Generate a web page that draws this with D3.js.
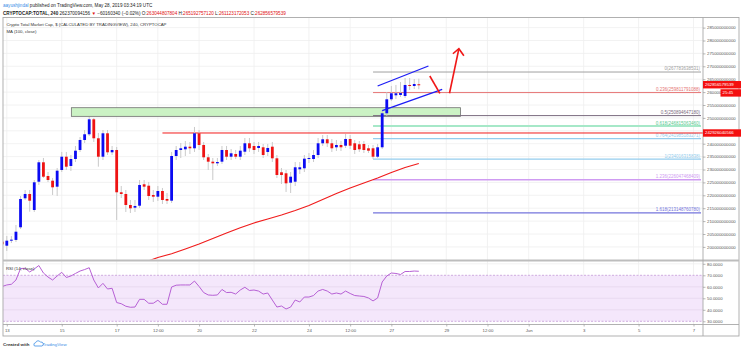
<!DOCTYPE html>
<html>
<head>
<meta charset="utf-8">
<script src="https://cdn.jsdelivr.net/npm/d3@7"></script>
<style>
  body { margin: 0; background: #fff; }
  svg { display: block; font-family: "Liberation Sans", Arial, sans-serif; }
</style>
</head>
<body>
<svg id="chart" width="741" height="351"></svg>
<script>
// ---- data (prices in billions of USD, 4h candles starting 12 May 20:00) ----
const opens = [202.02,200.47,202.6,202.7,207.6,218.84,220.51,214.3,225.27,232.79,227.48,225.66,223.34,229.81,234.96,231.36,234.07,237.56,241.44,243.65,249.46,242.1,234.96,244.03,236.67,237.56,221.17,220.51,216.24,215.2,215.97,224.27,223.72,220.12,219.46,221.67,218.57,217.91,235.23,237.56,237.83,238.84,238.22,244.03,239.5,234.73,233.03,232.4,233.03,237.56,234.96,236.01,234.96,236.9,240.16,239.11,238.34,238.61,236.79,238.84,234.34,228.92,228.53,224.89,225.27,230.08,230.47,234.07,234.07,235.62,240.16,241.71,240.16,238.61,239.5,239.23,241.83,240.16,239.77,239.89,238.22,238.22,234.96,238.61,251.79,257.21,258.76,258.88,258.49,262.76,262.37,263.04];
const highs = [203.06,204.23,204.2,208.49,219.73,222.06,222.06,225.93,233.68,234.46,229.03,226.71,230.58,236.79,236.79,235.62,239.11,242.6,245.31,250.35,249.96,244.15,245.31,245.31,239.11,238.72,223.61,222.06,218.18,218.18,225.93,225.93,225.16,222.06,223.61,222.83,220.89,236.79,239.11,240.27,241.05,240.66,246.48,245.31,240.66,236.01,234.46,234.46,239.11,239.11,237.95,237.56,239.11,242.21,242.21,240.66,240.66,239.89,239.89,240.66,235.62,230.58,229.81,229.03,232.91,232.91,235.62,236.4,237.56,242.21,243.37,243.37,241.83,241.44,241.05,243.76,243.37,241.44,241.05,241.05,239.5,239.5,239.89,253.06,260.04,262.37,262.76,263.92,265.47,265.47,265.08,265.19];
const lows = [199.96,198.41,201.5,201.9,206.94,218.18,213.65,213.53,224.0,226.71,225.16,220.12,219.73,229.03,229.81,229.42,232.91,236.79,240.27,242.99,240.66,231.09,233.68,235.62,235.62,210.43,218.95,213.53,213.14,213.53,215.08,222.06,218.18,217.41,217.79,216.63,216.63,217.02,233.68,234.46,235.23,236.01,236.79,237.56,233.68,229.81,225.93,231.36,232.13,233.68,233.68,234.07,233.68,235.62,236.79,236.01,236.79,234.46,235.23,232.91,226.71,224.38,221.28,220.89,223.61,228.26,229.03,232.52,232.91,234.46,239.11,238.72,236.79,237.17,237.17,238.34,237.95,236.01,236.79,236.4,236.4,234.07,234.46,237.95,250.74,256.55,257.33,258.1,257.72,260.82,261.2,261.12];
const closes = [201.01,202.41,202.8,205.89,218.57,220.51,217.91,225.04,232.79,227.21,225.93,223.1,229.54,234.96,231.09,234.07,237.29,241.44,243.65,249.46,242.1,234.96,244.03,236.67,237.56,221.17,220.51,216.24,214.96,215.86,224.0,223.34,219.73,219.46,221.67,218.18,217.91,235.23,237.56,238.22,238.84,238.22,244.03,239.5,234.73,233.03,232.4,232.91,237.56,234.96,236.28,234.96,237.29,240.16,238.22,237.56,239.11,235.62,238.34,234.34,227.87,227.87,224.65,227.21,230.86,230.86,234.19,234.46,235.62,240.16,241.71,240.16,238.22,239.5,238.61,241.83,239.23,237.56,237.83,237.56,237.29,234.96,238.61,251.79,257.21,259.54,259.54,259.66,262.76,262.37,263.14,262.86];

// MA(100, close) read at some bars
const maBars = [31,34,37,40,43,46,49,52,55,58,61,64,67,70,73,76,79,82,85,88,91];
const maValues = [193.96,195.89,197.33,199.19,201.12,203.26,205.39,207.4,209.27,210.82,212.37,214.11,216.05,218.38,220.7,222.83,224.77,226.71,228.84,230.78,232.33];

// RSI(14, close), one value per bar
const rsiValues = [60.3,61.6,62.2,65.9,75.9,76.1,72.9,75.5,78.5,72.0,68.5,65.9,69.4,72.6,68.1,69.4,71.6,73.7,75.0,76.6,65.9,59.0,63.0,58.1,58.7,46.3,45.3,43.1,42.2,42.4,49.1,49.1,45.7,45.7,48.3,44.8,44.8,59.8,61.4,61.6,61.6,61.6,65.0,60.3,55.0,52.9,52.6,52.9,57.7,55.0,55.2,53.7,57.2,59.6,56.8,57.2,56.3,53.7,54.6,48.5,42.4,43.3,40.7,42.4,48.5,46.8,51.1,51.1,52.4,56.3,57.7,56.3,53.7,54.6,53.7,56.3,54.2,52.4,52.0,51.6,50.3,47.7,50.3,64.2,69.4,72.0,71.6,70.7,73.3,73.3,73.7,73.5];

// fibonacci retracement
const fibRatios = ["0","0.236","0.5","0.618","0.764","1","1.236","1.618"];
const fibPrices = [267.78,259.81,250.89,246.82,241.99,234.02,226.05,213.15];
const fibTexts = ["267783638531","259811791088","250894647180","246815063460","241985183271","234016315838","226047468409","213148760780"];
const fibColors = ["#a0a0a0","#e57373","#7a6a7e","#a6e8c8","#94cdee","#94cdee","#cf9bf2","#7575dc"];
const fibWidths = [1,1,1,2,1.2,1.2,1.6,1.2];
const fibStartBar = 81;

// hand drawings: [bar1, price1, bar2, price2]
const blueLines = [[82.0,262.37,93.1,270.12],[83.0,252.79,96.1,261.09]];
const redLines = [[93.4,266.24,95.6,259.54],[97.7,259.54,99.75,276.8]];
const zoneBox = [15.1, 253.95, 100.1, 250.6];
const hLine = [35, 244.15];

// axes
const priceTicks = d3.range(200, 286, 5);
const hiddenPriceTicks = [245];   // covered by the level tag in the original
const rsiTicks = [30,40,50,60,70,80];
const timeTicks = [[2019,4,13,0,"13"],[2019,4,15,0,"15"],[2019,4,17,0,"17"],[2019,4,18,12,"12:00"],[2019,4,20,0,"20"],[2019,4,22,0,"22"],[2019,4,24,0,"24"],[2019,4,25,12,"12:00"],[2019,4,27,0,"27"],[2019,4,29,0,"29"],[2019,4,30,12,"12:00"],[2019,5,1,0,"Jun"],[2019,5,3,0,"3"],[2019,5,5,0,"5"],[2019,5,7,0,"7"]];

// ---- layout ----
const svg = d3.select("#chart");
const paneL = 3, paneR = 703, outerR = 739;
const mainT = 17.5, mainB = 259.5, rsiT = 261.5, rsiB = 324.5, axisB = 336;
const fontAxis = "4.3px";

const x = d3.scaleTime()
  .domain([new Date(2019,4,13), new Date(2019,5,7)])
  .range([6.8, 693.5]);
const t0 = new Date(2019,4,12,20);
const barTime = i => new Date(+t0 + i * 4 * 3600e3);
const bx = i => x(barTime(i));
const y = d3.scaleLinear().domain([200, 285]).range([246.9, 27.6]);
const yr = d3.scaleLinear().domain([30, 70]).range([321.3, 275.3]);

const defs = svg.append("defs");
defs.append("clipPath").attr("id", "clipMain").append("rect")
  .attr("x", paneL).attr("y", mainT).attr("width", paneR - paneL).attr("height", mainB - mainT);
defs.append("clipPath").attr("id", "clipRsi").append("rect")
  .attr("x", paneL).attr("y", rsiT).attr("width", paneR - paneL).attr("height", rsiB - rsiT);

// header
const head = svg.append("g").attr("font-size", "4.6px").attr("fill", "#222");
const h1 = head.append("text").attr("x", 3).attr("y", 7.2);
h1.append("tspan").attr("fill", "#3a8ee6").text("aayushjindal");
h1.append("tspan").text(" published on TradingView.com, May 28, 2019 03:34:19 UTC");
const h2 = head.append("text").attr("x", 3).attr("y", 15.2);
h2.append("tspan").attr("font-weight", "bold").text("CRYPTOCAP:TOTAL, 240");
h2.append("tspan").text(" 262370094156 ");
h2.append("tspan").attr("fill", "#e01010").text("▼");
h2.append("tspan").text(" −60160340 (−0.02%) O:");
h2.append("tspan").attr("fill", "#e01010").text("263044807804");
h2.append("tspan").text(" H:");
h2.append("tspan").attr("fill", "#e01010").text("265192757120");
h2.append("tspan").text(" L:");
h2.append("tspan").attr("fill", "#e01010").text("261123172053");
h2.append("tspan").text(" C:");
h2.append("tspan").attr("fill", "#e01010").text("262856579539");

// grid
const grid = svg.append("g").attr("stroke", "#efefef").attr("stroke-width", 0.8);
grid.selectAll("line.h").data(priceTicks).join("line")
  .attr("x1", paneL).attr("x2", paneR).attr("y1", d => y(d)).attr("y2", d => y(d));
grid.selectAll("line.v").data(timeTicks).join("line")
  .attr("x1", d => x(new Date(d[0], d[1], d[2], d[3]))).attr("x2", d => x(new Date(d[0], d[1], d[2], d[3])))
  .attr("y1", mainT).attr("y2", rsiB);

// main pane content
const main = svg.append("g").attr("clip-path", "url(#clipMain)");

// green zone
main.append("rect")
  .attr("x", bx(zoneBox[0])).attr("y", y(zoneBox[1]))
  .attr("width", bx(zoneBox[2]) - bx(zoneBox[0])).attr("height", y(zoneBox[3]) - y(zoneBox[1]))
  .attr("fill", "#cbf2c4").attr("stroke", "#6f6f6f").attr("stroke-width", 0.8);

// fib lines
main.selectAll("line.fib").data(fibPrices).join("line")
  .attr("x1", bx(fibStartBar)).attr("x2", paneR - 2)
  .attr("y1", d => y(d)).attr("y2", d => y(d))
  .attr("stroke", (d, i) => fibColors[i]).attr("stroke-width", (d, i) => fibWidths[i]);
main.selectAll("text.fib").data(fibPrices).join("text")
  .attr("x", paneR - 3).attr("y", d => y(d) - 1.6)
  .attr("text-anchor", "end").attr("font-size", "4.5px")
  .attr("fill", (d, i) => i === 3 ? "#58c890" : fibColors[i])
  .text((d, i) => `${fibRatios[i]}(${fibTexts[i]})`);

// red horizontal level
main.append("line")
  .attr("x1", bx(hLine[0])).attr("x2", paneR).attr("y1", y(hLine[1])).attr("y2", y(hLine[1]))
  .attr("stroke", "#f21b1b").attr("stroke-width", 1);

// MA 100
main.append("path")
  .datum(maBars.map((b, i) => [b, maValues[i]]))
  .attr("d", d3.line().x(d => bx(d[0])).y(d => y(d[1])))
  .attr("fill", "none").attr("stroke", "#f01c1c").attr("stroke-width", 1.2);

// candles
const bars = d3.range(opens.length);
const up = i => closes[i] >= opens[i];
main.append("g").selectAll("line").data(bars).join("line")
  .attr("x1", i => bx(i)).attr("x2", i => bx(i))
  .attr("y1", i => y(highs[i])).attr("y2", i => y(lows[i]))
  .attr("stroke", "#c4c4c4").attr("stroke-width", 0.9);
main.append("g").selectAll("rect").data(bars).join("rect")
  .attr("x", i => bx(i) - 1.4).attr("width", 2.8)
  .attr("y", i => y(Math.max(opens[i], closes[i])))
  .attr("height", i => Math.max(1, Math.abs(y(opens[i]) - y(closes[i]))))
  .attr("fill", i => up(i) ? "#0b0bf2" : "#ee1313");

// drawings
main.selectAll("line.blue").data(blueLines).join("line")
  .attr("x1", d => bx(d[0])).attr("y1", d => y(d[1])).attr("x2", d => bx(d[2])).attr("y2", d => y(d[3]))
  .attr("stroke", "#1d1df5").attr("stroke-width", 1.3);
main.selectAll("line.red").data(redLines).join("line")
  .attr("x1", d => bx(d[0])).attr("y1", d => y(d[1])).attr("x2", d => bx(d[2])).attr("y2", d => y(d[3]))
  .attr("stroke", "#f01818").attr("stroke-width", 1.6);
{
  const a = redLines[1];
  const tx = bx(a[2]), ty = y(a[3]);
  main.append("path")
    .attr("d", `M${tx - 6},${ty + 5} L${tx},${ty} L${tx + 5},${ty + 7}`)
    .attr("fill", "none").attr("stroke", "#f01818").attr("stroke-width", 1.6);
}

// legend
const leg = svg.append("g").attr("font-size", "4.3px").attr("fill", "#333");
leg.append("text").attr("x", 6.5).attr("y", 26.3).text("Crypto Total Market Cap, $ (CALCULATED BY TRADINGVIEW), 240, CRYPTOCAP");
leg.append("text").attr("x", 6.5).attr("y", 33.4).text("MA (100, close)");

// RSI pane
svg.append("rect")
  .attr("x", paneL).attr("y", yr(70)).attr("width", paneR - paneL).attr("height", yr(30) - yr(70))
  .attr("fill", "#f4e7fb");
svg.append("g").selectAll("line").data([40, 50, 60, 80]).join("line")
  .attr("x1", paneL).attr("x2", paneR).attr("y1", d => yr(d)).attr("y2", d => yr(d))
  .attr("stroke", d => d === 80 ? "#efefef" : "#e6d8ee").attr("stroke-width", 0.8);
svg.append("g").selectAll("line").data([70, 30]).join("line")
  .attr("x1", paneL).attr("x2", paneR).attr("y1", d => yr(d)).attr("y2", d => yr(d))
  .attr("stroke", "#c59ad8").attr("stroke-width", 0.8).attr("stroke-dasharray", "2,1.5");
svg.append("g").attr("clip-path", "url(#clipRsi)").append("path")
  .datum(rsiValues)
  .attr("d", d3.line().x((d, i) => bx(i)).y(d => yr(d)))
  .attr("fill", "none").attr("stroke", "#b660d4").attr("stroke-width", 1);
svg.append("text").attr("x", 6).attr("y", 269.8).attr("font-size", "4.3px").attr("fill", "#333")
  .text("RSI (14, close)");

// frame
const frame = svg.append("g").attr("fill", "none").attr("stroke", "#a8a8a8");
frame.append("rect").attr("x", paneL).attr("y", mainT).attr("width", outerR - paneL).attr("height", axisB - mainT).attr("stroke-width", 0.9);
frame.append("line").attr("x1", paneL).attr("x2", outerR).attr("y1", 260.5).attr("y2", 260.5).attr("stroke-width", 2).attr("stroke", "#bdbdbd");
frame.append("line").attr("x1", paneL).attr("x2", outerR).attr("y1", rsiB).attr("y2", rsiB).attr("stroke-width", 0.9);
frame.append("line").attr("x1", paneR).attr("x2", paneR).attr("y1", mainT).attr("y2", axisB).attr("stroke-width", 0.9);

// axes
function styleAxis(g) {
  g.select(".domain").remove();
  g.selectAll(".tick line").attr("stroke", "#9a9a9a").attr("stroke-width", 0.7);
  g.selectAll(".tick text").attr("fill", "#555").attr("font-size", fontAxis)
    .attr("font-family", "Liberation Sans, Arial, sans-serif");
}
svg.append("g").attr("transform", `translate(${paneR},0)`)
  .call(d3.axisRight(y).tickValues(priceTicks).tickSize(2.5).tickPadding(1.5)
    .tickFormat(d => hiddenPriceTicks.includes(d) ? "" : d3.format("d")(d * 1e9)))
  .call(styleAxis);
svg.append("g").attr("transform", `translate(${paneR},0)`)
  .call(d3.axisRight(yr).tickValues(rsiTicks).tickSize(2.5).tickPadding(1.5).tickFormat(d3.format(".4f")))
  .call(styleAxis);
svg.append("g").attr("transform", `translate(0,${rsiB})`)
  .call(d3.axisBottom(x).tickValues(timeTicks.map(d => new Date(d[0], d[1], d[2], d[3])))
    .tickSize(2).tickPadding(2.5).tickFormat((d, i) => timeTicks[i][4]))
  .call(styleAxis);

// price labels on axis
const tags = [
  {price: closes[closes.length - 1], text: "262856579539", x0: paneR, dy: 0},
  {price: closes[closes.length - 1], text: "25:45", x0: 720.5, dy: 8.2},
  {price: 242.93, text: "242926040566", x0: paneR, dy: 0, py: hLine[1]}
];
const tg = svg.append("g");
tags.forEach(t => {
  const cy = y(t.py || t.price) + t.dy;
  tg.append("rect").attr("x", t.x0).attr("y", cy - 3.7).attr("width", 741 - t.x0).attr("height", 7.4).attr("fill", "#f40f0f");
  tg.append("text").attr("x", t.x0 + 2).attr("y", cy + 1.5).attr("font-size", fontAxis).attr("fill", "#fff").text(t.text);
});

// footer
const foot = svg.append("g").attr("font-size", "4.4px");
foot.append("text").attr("x", 3).attr("y", 346.3).attr("font-weight", "bold").attr("fill", "#333").text("Created with");
foot.append("path")
  .attr("d", "M34.5,346 a2,2 0 0 1 1.2,-3.4 a2.6,2.6 0 0 1 4.8,-0.4 a1.9,1.9 0 0 1 1.5,3.8 z")
  .attr("fill", "none").attr("stroke", "#3a8ee6").attr("stroke-width", 0.8);
foot.append("text").attr("x", 42.5).attr("y", 346.3).attr("fill", "#3a8ee6").text("TradingView");
</script>
</body>
</html>
